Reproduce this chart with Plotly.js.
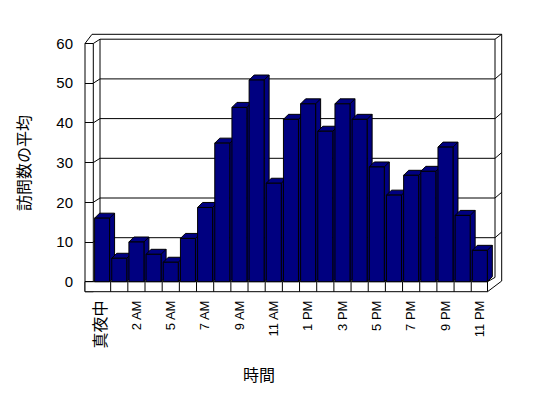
<!DOCTYPE html>
<html><head><meta charset="utf-8">
<script src="https://cdn.plot.ly/plotly-3.0.1.min.js"></script>
<style>html,body{margin:0;padding:0;background:#fff}#chart{width:548px;height:398px}</style>
</head><body><div id="chart"></div>
<script>
// ---- data ----
const categories = ['真夜中','1 AM','2 AM','3 AM','5 AM','6 AM','7 AM','8 AM','9 AM','10 AM','11 AM','正午',
  '1 PM','2 PM','3 PM','4 PM','5 PM','6 PM','7 PM','8 PM','9 PM','10 PM','11 PM'];
const visits = [16, 5.9, 10, 6.9, 4.9, 10.9, 18.7, 34.9, 43.9, 50.8, 24.8, 40.9,
  44.8, 37.9, 44.8, 40.9, 28.9, 21.8, 26.8, 27.8, 33.9, 16.7, 7.9];
const yTicks = [0, 10, 20, 30, 40, 50, 60];
const xTitle = '時間';
const yTitle = '訪問数の平均';

// ---- geometry ----
const W = 548, H = 398, M = {l: 85, r: 46, t: 34, b: 106};
const PW = W - M.l - M.r, PH = H - M.t - M.b;
const frontLeft = 93.5, pitch = 17.17, zeroY = 281.7, pxPerUnit = 3.97;
const n = categories.length;
const xRange = [-0.5 - (frontLeft - M.l) / pitch, n - 0.5 + (W - M.r - (frontLeft + pitch * n)) / pitch];
const yRange = [-(H - M.b - zeroY) / pxPerUnit, (zeroY - M.t) / pxPerUnit];
const px = v => (v - M.l) / PW;
const py = v => (H - M.b - v) / PH;
const FONT = 'Liberation Sans, "Noto Sans CJK JP", sans-serif';
const LINE = {color: '#000', width: 1};

const shapes = [];
function pline(x0, y0, x1, y1) {
  shapes.push({type: 'line', xref: 'paper', yref: 'paper', x0: px(x0), y0: py(y0), x1: px(x1), y1: py(y1), line: LINE, layer: 'below'});
}
const topY = zeroY - yTicks[yTicks.length - 1] * pxPerUnit;
// left wall
shapes.push({type: 'rect', xref: 'paper', yref: 'paper', x0: px(85), x1: px(93.3), y0: py(topY), y1: py(291.7), line: LINE, fillcolor: '#fff', layer: 'below'});
pline(85, topY, 92, 34.3);
pline(93.3, topY, 100, topY - 4.3);
// outer top / right
pline(92, 34.3, 501.7, 34.3);
pline(501.7, 34.3, 501.7, 281);
pline(501.7, 281, 487.5, 291.7);
// back wall
pline(100, topY - 4.3, 495, topY - 4.3);
pline(100, topY - 4.3, 100, zeroY - 4.3);
pline(495, topY - 4.3, 495, zeroY - 4.3);
pline(495, topY - 4.3, 501.7, 34.3);
// floor
shapes.push({type: 'rect', xref: 'paper', yref: 'paper', x0: px(85), x1: px(487.5), y0: py(zeroY), y1: py(291.7), line: LINE, fillcolor: '#fff', layer: 'below'});
pline(487.5, zeroY, 495, zeroY - 4.3);
for (let i = 0; i < n - 1; i++) {
  shapes.push({type: 'line', xref: 'x', yref: 'paper', x0: i + 0.5, x1: i + 0.5, y0: py(291.7), y1: py(zeroY), line: LINE, layer: 'below'});
}
// back wall gridlines
const backDy = 4.3 / pxPerUnit;
yTicks.slice(1, -1).forEach(v => {
  shapes.push({type: 'line', xref: 'paper', yref: 'y', x0: px(93.3), y0: v, x1: px(100), y1: v + backDy, line: LINE, layer: 'below'});
  shapes.push({type: 'line', xref: 'paper', yref: 'y', x0: px(100), y0: v + backDy, x1: px(495), y1: v + backDy, line: LINE, layer: 'below'});
  shapes.push({type: 'line', xref: 'paper', yref: 'y', x0: px(495), y0: v + backDy, x1: px(501.7), y1: v + backDy + 5.7 / pxPerUnit, line: LINE, layer: 'below'});
});
// 3D side and top faces of the bars
const bargap = 0.126, w = (1 - bargap) / 2, dx = 5 / pitch, dy = 5 / pxPerUnit;
visits.forEach((v, i) => {
  const a = i - w, b = i + w;
  shapes.push({type: 'path', xref: 'x', yref: 'y', layer: 'below', fillcolor: '#000080', line: LINE,
    path: `M${a},${v} L${a + dx},${v + dy} L${b + dx},${v + dy} L${b + dx},${dy} L${b},0 L${b},${v} Z M${b},${v} L${b + dx},${v + dy}`});
});

const xIdx = categories.map((c, i) => i);
const tickIdx = xIdx.filter(i => i % 2 === 0);
const tickText = tickIdx.map(i => /[A-Z]/.test(categories[i]) ? categories[i] : `<span style="font-size:16px">${categories[i]}</span>`);

const trace = {
  type: 'bar', x: xIdx, y: visits, customdata: categories,
  hovertemplate: '%{customdata}: %{y}<extra></extra>',
  marker: {color: '#000080', line: {color: '#000', width: 1}},
};

const layout = {
  width: W, height: H, margin: M,
  paper_bgcolor: '#fff', plot_bgcolor: 'rgba(0,0,0,0)',
  font: {family: FONT, color: '#000', size: 13},
  showlegend: false, bargap: bargap,
  xaxis: {range: xRange, tickvals: tickIdx, ticktext: tickText, tickangle: -90,
    showgrid: false, zeroline: false, showline: false, ticks: '', ticklabelstandoff: 5,
    tickfont: {size: 13, family: FONT, color: '#000'}, fixedrange: true},
  yaxis: {range: yRange, tickvals: yTicks, ticks: 'inside', ticklen: 8.3, tickcolor: '#000', tickwidth: 1,
    showgrid: false, zeroline: false, showline: false, ticklabelstandoff: 11,
    tickfont: {size: 15, family: FONT, color: '#000'},
    title: {text: yTitle, font: {size: 16, family: FONT, color: '#000'}, standoff: 21}, fixedrange: true},
  shapes: shapes,
  annotations: [{xref: 'paper', yref: 'paper', x: px(259), y: py(375), text: xTitle, showarrow: false,
    xanchor: 'center', yanchor: 'middle', font: {size: 16, family: FONT, color: '#000'}}],
};
Plotly.newPlot('chart', [trace], layout, {displayModeBar: false, staticPlot: true});
</script>
</body></html>
